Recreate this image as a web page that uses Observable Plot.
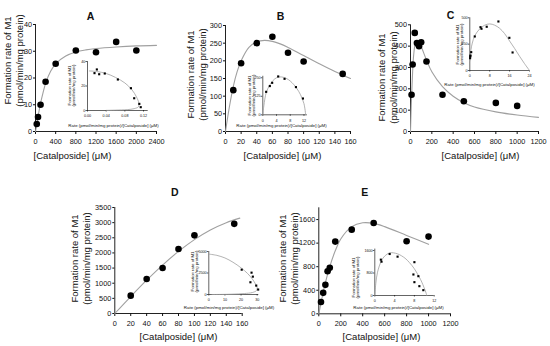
<!DOCTYPE html>
<html><head><meta charset="utf-8">
<script src="https://cdn.jsdelivr.net/npm/d3@7"></script>
<script src="https://cdn.jsdelivr.net/npm/@observablehq/plot@0.6"></script>
<style>
body{margin:0;background:#fff;}
#chart{position:relative;width:550px;height:346px;overflow:hidden;background:#fff;}
#chart svg{position:absolute;left:0;top:0;}
</style></head><body><div id="chart"></div>
<script>
// ---------- DATA ----------
// Panel A
const aConc = [25, 50, 100, 200, 400, 800, 1200, 1600, 2000];
const aRate = [2.8, 5.4, 10, 18.6, 25.3, 30.3, 29.6, 33.5, 30.3];
const aFitConc = [0, 25, 50, 100, 150, 200, 300, 400, 600, 800, 1000, 1200, 1600, 2000, 2400];
const aFitRate = [0, 2.5, 5.5, 10.5, 14.5, 18, 22.5, 25.3, 28.2, 29.7, 30.5, 31, 31.6, 32, 32.2];
const aInX = [0.015, 0.020, 0.025, 0.037, 0.065, 0.093, 0.100, 0.111, 0.114];
const aInY = [30.5, 33.5, 29.6, 30.2, 25.3, 18.2, 10, 5.4, 2.7];
const aInFitX = [0.004, 0.02, 0.04, 0.06, 0.08, 0.095, 0.105, 0.110, 0.109, 0.100, 0.085, 0.06, 0.04];
const aInFitY = [32.3, 31.8, 30.2, 27, 22.5, 17, 11, 6, 3, 1.5, 0.7, 0.3, 0.1];
const aXTicks = [0, 400, 800, 1200, 1600, 2000, 2400];
const aYTicks = [0, 10, 20, 30, 40];
const aInXTicks = [0, 0.04, 0.08, 0.12];
const aInYTicks = [0, 20, 40];

// Panel B
const bConc = [10, 20, 40, 60, 80, 100, 150];
const bRate = [117, 193, 250, 268, 223, 198, 163];
const bFitConc = [0, 5, 10, 15, 20, 30, 40, 50, 60, 70, 80, 100, 120, 140, 160];
const bFitRate = [0, 70, 128, 170, 200, 238, 254, 258, 255, 248, 238, 215, 192, 170, 150];
const bInX = [0.98, 2.05, 2.73, 4.49, 6.34, 9.66, 11.7];
const bInY = [155, 194, 216, 259, 243, 187, 110];
const bInFitX = [0, 0.3, 1, 2, 3, 4, 5, 6, 7, 8, 9, 10, 11, 12, 12.5];
const bInFitY = [0, 60, 150, 200, 232, 250, 256, 253, 244, 228, 205, 175, 135, 75, 0];
const bXTicks = [0, 20, 40, 60, 80, 100, 120, 140, 160];
const bYTicks = [0, 50, 100, 150, 200, 250, 300];
const bInXTicks = [0, 4, 8, 12];
const bInYTicks = [0, 125, 250];

// Panel C
const cConc = [10, 20, 40, 60, 75, 80, 100, 150, 300, 500, 800, 1000];
const cRate = [172, 314, 462, 415, 408, 400, 418, 328, 172, 142, 134, 120];
const cFitConc = [0, 5, 10, 20, 30, 45, 60, 80, 100, 150, 200, 300, 400, 500, 600, 800, 1000, 1200];
const cFitRate = [0, 90, 160, 280, 360, 412, 425, 418, 398, 335, 280, 210, 165, 135, 115, 92, 77, 66];
const cInX = [0.12, 0.17, 0.28, 0.57, 2, 4.3, 4.7, 6.8, 11.5, 15.9, 17.2];
const cInY = [117, 134, 142, 174, 323, 411, 396, 415, 465, 310, 171];
const cInFitX = [0, 0.5, 1, 2, 4, 6, 8, 10, 12, 14, 16, 18, 20, 22, 24];
const cInFitY = [90, 200, 260, 330, 395, 430, 442, 430, 400, 350, 280, 210, 135, 65, 0];
const cXTicks = [0, 200, 400, 600, 800, 1000, 1200];
const cYTicks = [0, 100, 200, 300, 400, 500];
const cInXTicks = [0, 8, 16, 24];
const cInYTicks = [0, 250, 500];

// Panel D
const dConc = [20, 40, 60, 80, 100, 150];
const dRate = [590, 1140, 1500, 2130, 2580, 2960];
const dFitConc = [0, 20, 40, 60, 80, 100, 120, 140, 157];
const dFitRate = [0, 560, 1100, 1600, 2050, 2440, 2760, 3000, 3150];
const dInX = [20.4, 26.5, 27.3, 25.8, 29.4, 30.6];
const dInY = [2885, 2540, 2077, 1423, 1038, 577];
const dInFitX = [0, 5, 10, 15, 20, 24, 27, 29, 30, 29.5, 27, 22, 15, 8, 2];
const dInFitY = [4700, 4550, 4250, 3750, 3100, 2450, 1800, 1200, 800, 450, 230, 110, 40, 10, 0];
const dXTicks = [0, 20, 40, 60, 80, 100, 120, 140, 160];
const dYTicks = [0, 500, 1000, 1500, 2000, 2500, 3000, 3500];
const dInXTicks = [0, 10, 20, 30];
const dInYTicks = [0, 2500, 5000];

// Panel E
const eConc = [20, 40, 60, 80, 100, 150, 300, 500, 800, 1000];
const eRate = [200, 356, 492, 723, 780, 1226, 1429, 1542, 1232, 1311];
const eFitConc = [0, 25, 50, 100, 150, 200, 300, 400, 500, 600, 800, 1000];
const eFitRate = [0, 230, 450, 800, 1070, 1270, 1480, 1545, 1535, 1480, 1330, 1180];
const eInX = [1.22, 1.36, 3.0, 4.6, 8.0, 7.8, 8.8, 8.0, 9.0, 9.8];
const eInY = [1274, 1203, 1476, 1381, 1185, 747, 687, 474, 332, 190];
const eInFitX = [0, 0.2, 0.55, 1.36, 2, 3.06, 4.6, 6.1, 7, 8, 9, 9.5, 10.3, 10.5];
const eInFitY = [0, 420, 830, 1244, 1400, 1517, 1481, 1327, 1170, 948, 650, 474, 118, 0];
const eXTicks = [0, 200, 400, 600, 800, 1000, 1200];
const eYTicks = [0, 400, 800, 1200, 1600];
const eInXTicks = [0, 4, 8, 12];
const eInYTicks = [0, 800, 1600];

// Text
const yTitle = "Formation rate of M1\n(pmol/min/mg protein)";
const xTitle = "[Catalposide] (\u03bcM)";
const inXTitle = "Rate (pmol/min/mg protein)/[Catalposide] (\u03bcM)";

// ---------- DRAWING ----------
const W = 550, H = 346;
const FONT = "'Liberation Sans', Arial, Helvetica, sans-serif";
const chart = document.getElementById("chart");
const zip = (xs, ys) => xs.map((x, i) => ({x, y: ys[i]}));

function panel(cfg) {
  const [x0, x1, top, bottom] = cfg.frame;
  const texts = (cfg.texts || []).map(t => Plot.text([t.s], {
    text: d => d, frameAnchor: "top-left", dx: t.x - x0, dy: t.y - top,
    rotate: t.r || 0, fontSize: t.size, fontWeight: t.bold ? "bold" : "normal",
    textAnchor: "middle", lineAnchor: "middle", lineHeight: t.lh || 1.2, fill: "#111"
  }));
  const svg = Plot.plot({
    width: W, height: H,
    marginLeft: x0, marginRight: W - x1, marginTop: top, marginBottom: H - bottom,
    style: {background: "transparent", fontFamily: FONT, color: "#111"},
    x: {domain: cfg.xd},
    y: {domain: cfg.yd},
    marks: [
      Plot.ruleX([cfg.xd[0]], {stroke: "#222", strokeWidth: cfg.sw}),
      Plot.ruleY([cfg.yd[0]], {stroke: "#222", strokeWidth: cfg.sw}),
      Plot.axisX(cfg.xt, {tickSize: cfg.tsx, tickPadding: cfg.tpx, tickFormat: cfg.xf, fontSize: cfg.fs, label: null, strokeWidth: cfg.sw}),
      Plot.axisY(cfg.yt, {tickSize: cfg.tsy, tickPadding: cfg.tpy, tickFormat: cfg.yf, fontSize: cfg.fs, label: null, strokeWidth: cfg.sw}),
      Plot.line(cfg.fit, {x: "x", y: "y", stroke: "#a0a0a0", strokeWidth: cfg.lw, curve: "catmull-rom"}),
      Plot.dot(cfg.pts, {x: "x", y: "y", r: cfg.r, fill: "#000", symbol: cfg.sym || "circle"}),
      ...texts
    ]
  });
  chart.appendChild(svg);
}

const MAIN = {fs: 7.3, tsx: 3, tpx: 4.5, tsy: 2, tpy: 1.5, sw: 1, lw: 1.1, r: 3.3};
const INSET = {fs: 3.7, tsx: 1.5, tpx: 2.8, tsy: 1.5, tpy: 0.7, sw: 0.7, lw: 0.8, r: 1.2, sym: "square"};
const fmt0 = d => String(d);

function mainPanel(o) {
  panel({...MAIN, xf: fmt0, yf: fmt0, ...o,
    texts: [
      {s: o.title, x: o.tPos[0], y: o.tPos[1], size: 10.5, bold: true},
      {s: yTitle, x: o.yPos[0], y: o.yPos[1], size: 9.5, r: -90, lh: 1.25},
      {s: xTitle, x: o.xPos[0], y: o.xPos[1], size: 9.5}
    ]});
}
function insetPanel(o) {
  panel({...INSET, xf: fmt0, yf: fmt0, ...o,
    texts: [
      {s: yTitle, x: o.yPos[0], y: o.yPos[1], size: 4.3, r: -90, lh: 0.95},
      {s: inXTitle, x: o.xPos[0], y: o.xPos[1], size: 4.4}
    ]});
}

// A
mainPanel({frame: [35, 156, 24, 131], xd: [0, 2400], yd: [0, 40], xt: aXTicks, yt: aYTicks,
  fit: zip(aFitConc, aFitRate), pts: zip(aConc, aRate),
  title: "A", tPos: [90, 15], yPos: [12.5, 60], xPos: [72, 155]});
insetPanel({frame: [87, 147.7, 61, 110], xd: [0, 0.13], yd: [0, 40], xt: aInXTicks, yt: aInYTicks,
  xf: d => d.toFixed(2), fit: zip(aInFitX, aInFitY), pts: zip(aInX, aInY),
  yPos: [71, 85], xPos: [113, 125]});
// B
mainPanel({frame: [225, 350, 25, 131], xd: [0, 160], yd: [0, 300], xt: bXTicks, yt: bYTicks,
  fit: zip(bFitConc, bFitRate), pts: zip(bConc, bRate),
  title: "B", tPos: [280, 15], yPos: [196, 74], xPos: [282, 155]});
insetPanel({frame: [262.3, 306.9, 75.8, 114.3], xd: [0, 13], yd: [0, 260], xt: bInXTicks, yt: bInYTicks,
  fit: zip(bInFitX, bInFitY), pts: zip(bInX, bInY),
  yPos: [251.5, 95], xPos: [281, 124.5]});
// C
mainPanel({frame: [410, 538, 24.3, 131], xd: [0, 1200], yd: [0, 500], xt: cXTicks, yt: cYTicks,
  fit: zip(cFitConc, cFitRate), pts: zip(cConc, cRate),
  title: "C", tPos: [450, 14], yPos: [386.5, 77], xPos: [480, 155]});
insetPanel({frame: [469.3, 529, 17.3, 70], xd: [0, 24], yd: [0, 500], xt: cInXTicks, yt: cInYTicks,
  fit: zip(cInFitX, cInFitY), pts: zip(cInX, cInY),
  yPos: [459, 44], xPos: [489, 84]});
// D
mainPanel({frame: [114.3, 241.7, 207, 313], xd: [0, 160], yd: [0, 3500], xt: dXTicks, yt: dYTicks,
  fit: zip(dFitConc, dFitRate), pts: zip(dConc, dRate),
  title: "D", tPos: [174.3, 191.7], yPos: [79.5, 258], xPos: [178, 335.7]});
insetPanel({frame: [208.3, 258.3, 251, 294], xd: [0, 31], yd: [0, 5000], xt: dInXTicks, yt: dInYTicks,
  fit: zip(dInFitX, dInFitY), pts: zip(dInX, dInY),
  yPos: [194.5, 271], xPos: [228.5, 306.7]});
// E
mainPanel({frame: [318.3, 450, 207.3, 313.3], xd: [0, 1200], yd: [0, 1800], xt: eXTicks, yt: eYTicks,
  fit: zip(eFitConc, eFitRate), pts: zip(eConc, eRate),
  title: "E", tPos: [364.3, 191.7], yPos: [288, 258], xPos: [381, 335.7]});
insetPanel({frame: [374.3, 433.7, 248.6, 295], xd: [0, 12], yd: [0, 1650], xt: eInXTicks, yt: eInYTicks,
  fit: zip(eInFitX, eInFitY), pts: zip(eInX, eInY),
  yPos: [355, 277], xPos: [398, 306.7]});
</script></body></html>
